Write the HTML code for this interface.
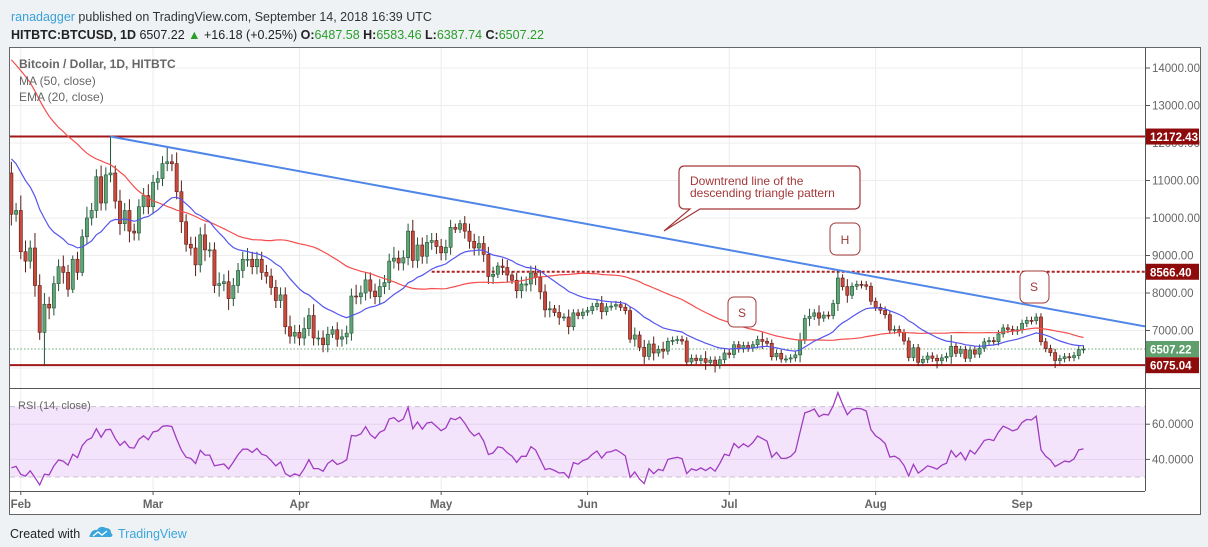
<!DOCTYPE html>
<html><head><meta charset="utf-8">
<style>
html,body{margin:0;padding:0;background:#eef2f5;}
body{width:1208px;height:547px;overflow:hidden;font-family:"Liberation Sans",sans-serif;}
svg{position:absolute;left:0;top:0;}
</style></head>
<body>
<svg id="chart" width="1208" height="547" xmlns="http://www.w3.org/2000/svg" font-family="Liberation Sans, sans-serif">
  <text x="11" y="21" font-size="12.5" fill="#333"><tspan fill="#3aa0d8">ranadagger</tspan> published on TradingView.com, September 14, 2018 16:39 UTC</text>
  <text x="11" y="39" font-size="12.5" fill="#222"><tspan font-weight="bold">HITBTC:BTCUSD, 1D</tspan> 6507.22 <tspan fill="#2a9d2a">▲</tspan> +16.18 (+0.25%) <tspan font-weight="bold">O:</tspan><tspan fill="#2a9d2a">6487.58</tspan> <tspan font-weight="bold">H:</tspan><tspan fill="#2a9d2a">6583.46</tspan> <tspan font-weight="bold">L:</tspan><tspan fill="#2a9d2a">6387.74</tspan> <tspan font-weight="bold">C:</tspan><tspan fill="#2a9d2a">6507.22</tspan></text>
  <rect x="9.5" y="47.5" width="1191" height="467" fill="#fff" stroke="#666"/>
  <g id="grid"></g>
  <rect x="10" y="406.6" width="1135" height="70.4" fill="#f3e4fc"/>
  <g id="rsiguides"></g>
  <g id="marks"></g>
  <line x1="1145.5" y1="48" x2="1145.5" y2="491" stroke="#555"/>
  <line x1="10" y1="388.5" x2="1200" y2="388.5" stroke="#555"/>
  <line x1="10" y1="491.5" x2="1145" y2="491.5" stroke="#555"/>
  <text x="19" y="68" font-size="12" font-weight="bold" fill="#666">Bitcoin / Dollar, 1D, HITBTC</text>
  <text x="19" y="85" font-size="12" fill="#666">MA (50, close)</text>
  <text x="19" y="101" font-size="12" fill="#666">EMA (20, close)</text>
  <text x="18" y="409" font-size="11" fill="#666">RSI (14, close)</text>
  <g>
    <path d="M685,166 H854 Q860,166 860,172 V203 Q860,209 854,209 H700 L664,231 L690,209 H685 Q679,209 679,203 V172 Q679,166 685,166 Z" fill="#fff" stroke="#a33838" stroke-width="1.2"/>
    <text x="690" y="185" font-size="12" fill="#a33838">Downtrend line of the</text>
    <text x="690" y="197" font-size="12" fill="#a33838">descending triangle pattern</text>
  </g>
  <g><rect x="728" y="297" width="28" height="30" rx="6" fill="#fff" stroke="#a33838"/><text x="742" y="317" font-size="12" fill="#a33838" text-anchor="middle">S</text></g>
  <g><rect x="830" y="223" width="30" height="32" rx="6" fill="#fff" stroke="#a33838"/><text x="845" y="244" font-size="12" fill="#a33838" text-anchor="middle">H</text></g>
  <g><rect x="1020" y="271" width="29" height="32" rx="6" fill="#fff" stroke="#a33838"/><text x="1034" y="291" font-size="12" fill="#a33838" text-anchor="middle">S</text></g>
  <g id="axes"></g>
  <text x="10" y="538" font-size="12.5" fill="#222">Created with</text>
  <g>
    <path d="M90,535 q2,-6 7,-5 q3,-5 9,-2 q5,0 5,5 q3,2 0,4 h-20 q-3,0 -1,-2z" fill="#3ba6dc"/>
    <path d="M93,536 l5,-4 l4,3 l5,-4" stroke="#fff" stroke-width="1.3" fill="none"/>
    <text x="118" y="538" font-size="12.5" fill="#3ba6dc">TradingView</text>
  </g>
</svg>
<script>
const priorCloses=[16700,17200,16400,16600,17700,19500,19100,18900,17500,16300,15800,13800,14700,13900,13900,15900,15600,14500,14600,12800,14000,13500,15000,15200,15200,17000,17100,16200,15000,14600,14800,13300,13900,14300,13600,13600,11300,11200,11400,11600,12900,11600,10900,10900,11300,11200,11100,11400,11800,11200];
const closes=[10100,10200,
9100,8850,9200,8200,6950,7700,7600,8250,8700,8550,8100,8900,8550,9500,10000,10200,11100,10400,11150,11200,10450,9850,10200,9650,9600,10300,10600,10300,
10950,11050,11450,11500,11450,10700,9900,9300,9200,8750,9550,9150,9150,8200,8250,8300,7850,8200,8600,8900,8900,8700,8900,8550,8450,8150,7800,7950,7100,6850,6950,
6800,7050,7400,6800,6800,6620,6900,7020,6770,6830,6930,7920,7900,8000,8350,8050,7900,8170,8280,8850,8930,8800,8940,9650,8870,9280,8980,9350,9400,9240,
9070,9220,9750,9700,9850,9650,9380,9200,9320,9030,8440,8500,8720,8680,8480,8340,8060,8240,8240,8530,8410,8030,7550,7580,7480,7350,7360,7100,7470,7400,7490,
7530,7640,7720,7500,7630,7650,7690,7620,7530,6770,6880,6550,6310,6640,6400,6500,6450,6710,6740,6760,6720,6160,6260,6200,6250,6150,6210,6080,6220,6400,
6360,6620,6510,6600,6530,6620,6760,6710,6660,6300,6390,6240,6240,6270,6350,6740,7320,7380,7470,7330,7410,7400,7720,8400,8170,7940,8180,8230,8220,8180,7780,
7620,7540,7420,7010,7030,6940,6720,6280,6540,6150,6230,6320,6260,6190,6270,6310,6580,6390,6490,6260,6480,6370,6530,6700,6730,6700,6910,7070,7030,6980,7020,
7190,7270,7260,7360,6700,6520,6410,6200,6250,6300,6280,6330,6490,6507];
const wickUp=[3,2,
4,3,2,4,3,3,2,2,2,3,2,1,2,2,3,2,2,3,2,10,2,3,2,3,2,2,2,3,
2,2,2,4,2,3,3,2,2,3,2,3,2,2,3,2,3,2,2,2,3,2,2,2,2,2,2,2,2,3,2,
2,3,2,3,2,2,2,1,2,2,2,2,3,2,2,2,2,2,2,2,3,2,2,2,3,2,2,2,2,2,
2,2,2,1,1,2,2,2,2,2,2,2,1,2,2,1,2,2,2,2,2,2,2,2,1,2,1,2,1,1,1,
1,1,1,2,1,1,1,1,1,1,2,1,2,1,2,1,2,1,1,1,1,1,1,1,1,2,1,1,1,1,
1,1,1,1,1,1,1,2,1,1,1,1,1,1,1,2,1,2,1,2,1,1,1,2,1,2,1,1,1,1,1,
1,1,1,1,1,1,1,1,1,1,1,1,1,1,1,1,3,1,1,1,1,1,1,1,1,1,1,1,1,1,1,
1,1,1,1,1,1,1,1,1,1,1,1,1,1];
const wickDn=[3,2,
2,3,2,3,2,9,3,2,2,3,2,1,2,1,2,2,2,2,2,2,2,3,2,3,2,2,2,2,
2,2,2,2,2,2,3,2,2,3,2,3,2,2,3,2,3,2,2,2,2,2,2,2,2,2,2,2,2,2,2,
2,2,2,2,2,2,2,1,2,2,2,2,2,2,2,2,2,2,2,2,2,2,2,2,2,2,2,2,2,2,
2,2,2,1,1,2,2,2,2,2,2,2,1,2,2,1,2,2,2,2,2,2,2,2,1,2,1,2,1,1,1,
1,1,1,2,1,1,1,1,1,1,2,1,2,1,2,1,2,1,1,1,1,1,1,1,1,2,1,2,1,1,
1,1,1,1,1,1,1,2,1,1,1,1,1,1,1,2,1,2,1,2,1,1,1,2,1,2,1,1,1,1,1,
1,1,1,1,1,1,1,1,1,1,1,1,1,2,1,1,2,1,1,1,1,1,1,1,1,1,1,1,1,1,1,
1,1,1,1,1,1,1,2,1,1,1,1,1,1];
const monthLabels=["Feb","Mar","Apr","May","Jun","Jul","Aug","Sep"];
const monthStartDays=[0,28,59,89,120,150,181,212];
const priceTicks=[14000,13000,12000,11000,10000,9000,8000,7000,6000];
const rsiTicks=[60,40];
const levels=[12172.43,6075.04];
const neckline=8566.40;
const lastPrice=6507.22;
const trendStart=[19,12172.43];
const trendMid=[175,8566.40];
const firstDay=-2;

const NS="http://www.w3.org/2000/svg";
const X=d=>20.8+4.723*d;
const Y=p=>330.5-(p-7000)*0.0375;
const R=r=>477-(r-30)*1.76;
const L=10,RT=1145;
function mk(tag,attrs,parent){const e=document.createElementNS(NS,tag);for(const k in attrs)e.setAttribute(k,attrs[k]);parent.appendChild(e);return e;}
const grid=document.getElementById('grid'),marks=document.getElementById('marks'),axes=document.getElementById('axes'),rg=document.getElementById('rsiguides');

// grid
priceTicks.forEach(p=>{const y=Y(p);if(y>50&&y<386){const g=mk('line',{x1:L,x2:RT,y1:y,y2:y,stroke:'#ececec'},grid);

}});
monthStartDays.forEach((d,i)=>{const x=X(d);const g=mk('line',{x1:x,x2:x,y1:48,y2:491,stroke:'#ececec'},grid);


const tk=mk('line',{x1:x,x2:x,y1:491,y2:495,stroke:'#555'},axes);


const t=mk('text',{x:x,y:508,'font-size':11.5,'font-weight':'bold',fill:'#666','text-anchor':'middle'},axes);t.textContent=monthLabels[i];

});
rsiTicks.forEach(r=>{const g=mk('line',{x1:L,x2:RT,y1:R(r),y2:R(r),stroke:'#e4d2ee'},rg);

});
[70,30].forEach(r=>{const g=mk('line',{x1:L,x2:RT,y1:R(r),y2:R(r),stroke:'#c8c0cc','stroke-dasharray':'5,4'},rg);

});

// horizontal levels
const lp=mk('line',{x1:L,x2:RT,y1:Y(lastPrice),y2:Y(lastPrice),stroke:'#6aa86f','stroke-dasharray':'1.5,2'},marks);


levels.forEach(p=>{const l=mk('line',{x1:L,x2:RT,y1:Y(p),y2:Y(p),stroke:'#a01818','stroke-width':2},marks);

});
const nl=mk('line',{x1:X(87),x2:RT,y1:Y(neckline),y2:Y(neckline),stroke:'#b02020','stroke-width':2,'stroke-dasharray':'3,2'},marks);



// candles
const clipBox=mk('clipPath',{id:'clp'},marks);mk('rect',{x:L,y:48,width:RT-L,height:340},clipBox);
const cg=mk('g',{'clip-path':'url(#clp)'},marks);
const all=priorCloses.concat(closes);const off=priorCloses.length;
closes.forEach((c,i)=>{
  const o=i===0?priorCloses[off-1]:closes[i-1];
  const d=firstDay+i,x=X(d);
  const hi=Math.max(o,c)+wickUp[i]*100, lo=Math.min(o,c)-wickDn[i]*100;
  const up=c>=o;
  const w=mk('line',{x1:x,x2:x,y1:Y(hi),y2:Y(lo),stroke:up?'#225437':'#5b1a13'},cg);
  
  
  const yt=Y(Math.max(o,c)),yb=Y(Math.min(o,c));
  const b=mk('rect',{x:x-1.6,y:yt,width:3.2,height:Math.max(1,yb-yt),fill:up?'#5fa575':'#c94a3c',stroke:up?'#225437':'#5b1a13','stroke-width':0.6},cg);
  
  
});
// MA50 & EMA20
let ma=[],ema=[];let e=priorCloses.slice(off-20).reduce((a,b)=>a+b,0)/20;
for(let k=off-19;k<off;k++){e=e+(2/21)*(all[k]-e);}
closes.forEach((c,i)=>{const k=off+i;const s=all.slice(k-49,k+1);ma.push(s.reduce((a,b)=>a+b,0)/s.length);e=e+(2/21)*(c-e);ema.push(e);});
function pathOf(arr,fy){return arr.map((v,i)=>(i?'L':'M')+X(firstDay+i).toFixed(1)+','+fy(v).toFixed(1)).join(' ');}
const maP=mk('path',{d:pathOf(ma,Y),fill:'none',stroke:'#f44d4d','stroke-width':1.2},cg);


const emP=mk('path',{d:pathOf(ema,Y),fill:'none',stroke:'#5555ee','stroke-width':1.2},cg);


// trendline
const slope=(trendMid[1]-trendStart[1])/(trendMid[0]-trendStart[0]);
const dEnd=(RT-20.8)/4.723;
const tl=mk('line',{x1:X(trendStart[0]),y1:Y(trendStart[1]),x2:RT,y2:Y(trendStart[1]+slope*(dEnd-trendStart[0])),stroke:'#4f86e8','stroke-width':2},cg);


// RSI
let ag=0,al=0;const st=1;
for(let k=st;k<st+14;k++){const ch=all[k]-all[k-1];ag+=Math.max(ch,0);al+=Math.max(-ch,0);}ag/=14;al/=14;
for(let k=st+14;k<off;k++){const ch=all[k]-all[k-1];ag=(ag*13+Math.max(ch,0))/14;al=(al*13+Math.max(-ch,0))/14;}
const rsi=[];closes.forEach((c,i)=>{const k=off+i;const ch=all[k]-all[k-1];ag=(ag*13+Math.max(ch,0))/14;al=(al*13+Math.max(-ch,0))/14;rsi.push(al===0?100:100-100/(1+ag/al));});
const rp=mk('path',{d:pathOf(rsi,R),fill:'none',stroke:'#a03cc0','stroke-width':1.3},marks);



// price axis labels
priceTicks.forEach(p=>{const y=Y(p);if(y<60||y>385)return;
const tk=mk('line',{x1:1145,x2:1150,y1:y,y2:y,stroke:'#555'},axes);


const t=mk('text',{x:1152,y:y+4,'font-size':11.5,fill:'#666'},axes);t.textContent=p.toFixed(2);

});
rsiTicks.forEach(r=>{const y=R(r);
const tk=mk('line',{x1:1145,x2:1150,y1:y,y2:y,stroke:'#555'},axes);


const t=mk('text',{x:1152,y:y+4,'font-size':11.5,fill:'#666'},axes);t.textContent=r.toFixed(4);

});
function tag(p,col,name){const y=Y(p);const g=mk('g',{},axes);


mk('rect',{x:1146,y:y-8,width:53,height:16,fill:col},g);
const t=mk('text',{x:1150,y:y+4.5,'font-size':11.5,'font-weight':'bold',fill:'#fff'},g);t.textContent=p.toFixed(2);}
tag(levels[0],'#8e0b0b','resistance-tag');
tag(neckline,'#8e0b0b','neckline-tag');
tag(lastPrice,'#5f9f6e','last-price-tag');
tag(levels[1],'#8e0b0b','support-tag');
</script>
</body></html>
